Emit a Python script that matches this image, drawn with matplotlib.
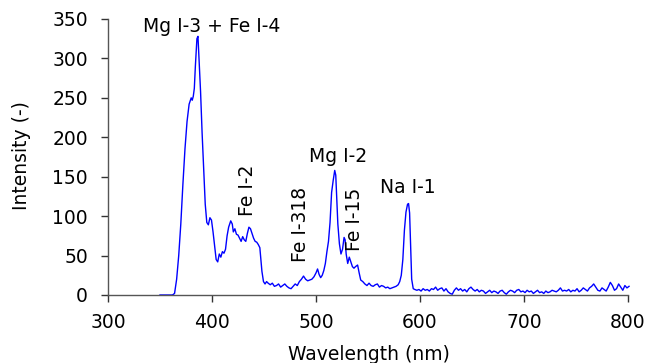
import matplotlib
matplotlib.use("Agg")
import matplotlib.pyplot as plt

# Spectrum
wavelength = [
    350, 355, 360, 362, 364, 366, 368, 370, 372, 374, 376, 378, 380, 381, 382, 383, 384,
    385.5, 386.5, 387.5, 389, 390.5, 392, 393.5, 395, 396.5, 398, 399.5, 401, 402.5, 404,
    405.5, 407, 408.5, 410, 411.5, 413, 414.5, 416, 418, 419.5, 420.5, 422, 423.5, 425,
    426.5, 428, 429.5, 431, 432.5, 434, 435.5, 437, 438.5, 440, 441.5, 443, 444.5, 446,
    447, 448, 449.5, 451, 452.5, 454, 456, 458, 460, 462, 464, 466, 468, 470, 472, 474,
    476, 478, 480, 482, 484, 486, 488, 490, 492, 494, 496, 498, 500, 501.5, 503, 504.5,
    506, 507.5, 509, 510.5, 512, 513.5, 515, 516.5, 518, 519, 520, 521, 522.5, 524, 525.5,
    527, 528, 529, 530.5, 532, 533.5, 535, 536.5, 538, 540, 541.5, 543, 545, 547, 549,
    551, 553, 555, 557, 559, 561, 563, 565, 567, 569, 571, 573, 575, 577, 579, 580.5, 582,
    583.5, 585, 586.5, 588, 589, 590, 591, 592, 593.5, 595, 597, 599, 601, 603, 605, 607,
    609, 611, 613, 615, 617, 619, 621, 623, 625, 627, 629, 631, 633, 635, 637, 639, 641,
    643, 645, 647, 649, 651, 653, 655, 657, 659, 661, 663, 665, 667, 669, 671, 673, 675,
    677, 679, 681, 683, 685, 687, 689, 691, 693, 695, 697, 699, 701, 703, 705, 707, 709,
    711, 713, 715, 717, 719, 721, 723, 725, 727, 729, 731, 733, 735, 737, 739, 741, 743,
    745, 747, 749, 751, 753, 755, 757, 759, 761, 763, 765, 767, 769, 771, 773, 775, 777,
    779, 781, 783, 785, 787, 789, 791, 793, 795, 797, 799, 801,
]
intensity = [
    0, 0, 0, 0, 2, 20, 50, 90, 140, 185, 220, 242, 250, 247, 252, 262, 290,
    325, 328, 300, 258, 205, 160, 115, 92, 89, 98, 95, 80, 62, 45,
    42, 52, 48, 55, 53, 58, 75, 86, 94, 90, 80, 84, 77, 76,
    72, 68, 74, 70, 68, 78, 86, 84, 78, 72, 68, 67, 64, 60,
    45, 30, 17, 14, 17, 15, 13, 15, 11, 12, 14, 10, 12, 14, 11, 9,
    8, 11, 14, 12, 17, 20, 24, 20, 18, 19, 20, 23, 28, 33, 26, 22,
    25, 31, 40, 55, 68, 92, 130, 145, 158, 152, 120, 90, 65, 52, 58,
    73, 70, 52, 40, 48, 42, 36, 34, 36, 38, 28, 19, 17, 14, 12,
    15, 12, 11, 13, 14, 10, 12, 11, 9, 10, 8, 9, 10, 11, 13, 17, 25,
    45, 82, 105, 115, 116, 104, 60, 20, 8, 7, 6, 7, 5, 8, 6, 7,
    5, 8, 7, 10, 6, 8, 9, 5, 8, 4, 2, 1, 6, 9, 6, 8, 5,
    7, 4, 8, 10, 7, 5, 7, 4, 6, 5, 2, 4, 6, 3, 5, 4, 2,
    5, 6, 3, 1, 4, 6, 5, 3, 6, 7, 4, 5, 3, 6, 4, 5, 2,
    4, 6, 3, 4, 2, 5, 3, 4, 6, 5, 4, 6, 9, 5, 6, 5, 7,
    4, 6, 5, 8, 4, 6, 9, 7, 5, 9, 11, 14, 10, 6, 5, 9, 7,
    5, 10, 16, 12, 6, 8, 14, 10, 6, 12, 9, 11,
]

x_ticks = [300, 400, 500, 600, 700, 800]
y_ticks = [0, 50, 100, 150, 200, 250, 300, 350]

peak_labels = ["Mg I-3 + Fe I-4", "Fe I-2", "Fe I-318", "Mg I-2", "Fe I-15", "Na I-1"]
peak_label_x = [400, 434.6, 485, 521.6, 537.5, 588]
peak_label_y = [341, 133, 89, 175, 96, 136]
peak_label_rot = [0, 90, 90, 0, 90, 0]

plt.rcParams['font.family'] = ['DejaVu Sans']
fs = 13.5

fig = plt.figure(figsize=(6.6, 3.63), dpi=100)
ax = fig.add_axes([108 / 660, 1 - 295 / 363, 520 / 660, 276 / 363])

ax.plot(wavelength, intensity, color='#0000ff', linewidth=1.0, clip_on=False)

ax.set_xlim(300, 800)
ax.set_ylim(0, 350)
ax.set_xticks(x_ticks)
ax.set_yticks(y_ticks)

for s in ['top', 'right']:
    ax.spines[s].set_visible(False)
for s in ['left', 'bottom']:
    ax.spines[s].set_color('#555555')
    ax.spines[s].set_linewidth(1.0)

ax.tick_params(axis='both', direction='out', length=5, width=1.0, color='#333333',
               labelsize=fs, labelcolor='black')
ax.tick_params(axis='x', pad=8)
ax.tick_params(axis='y', pad=9.5)

ax.set_xlabel("Wavelength (nm)", fontsize=fs)
ax.xaxis.set_label_coords(0.502, -0.214)
ax.xaxis.label.set_va('center')
ax.set_ylabel("Intensity (-)", fontsize=fs)
ax.yaxis.set_label_coords(-0.167, 0.507)
ax.yaxis.label.set_va('center')

for lab, lx, ly, rot in zip(peak_labels, peak_label_x, peak_label_y, peak_label_rot):
    ax.text(lx, ly, lab, rotation=rot, ha='center', va='center', fontsize=fs,
            color='black', clip_on=False)

fig.savefig("out.png", dpi=100)
